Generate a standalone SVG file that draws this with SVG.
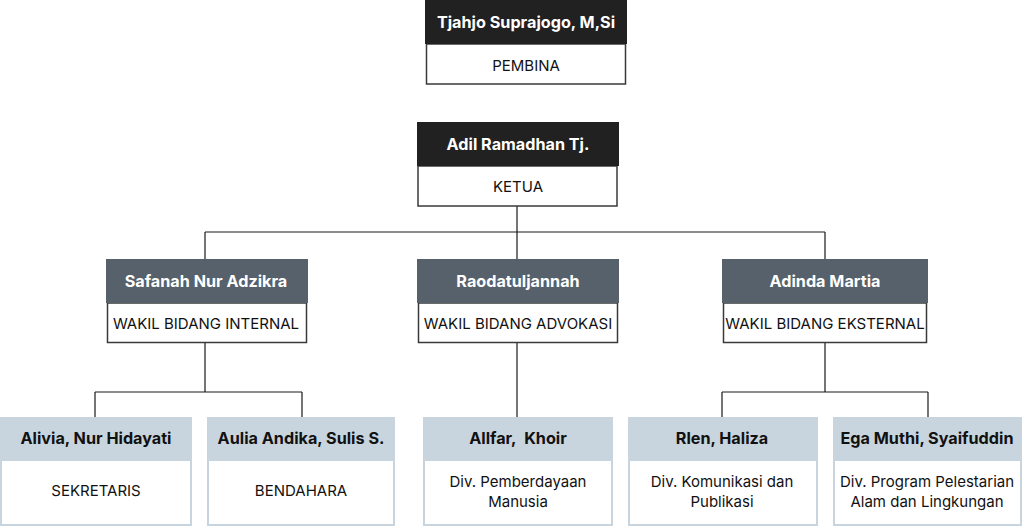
<svg xmlns="http://www.w3.org/2000/svg" width="1024" height="528" viewBox="0 0 1024 528">
<style>
.hd1{fill:#212121}
.hd2{fill:#56616b}
.hd3{fill:#c9d5de}
.bd{fill:#ffffff;stroke:#3a3a3a;stroke-width:1.5}
.bd3{fill:#ffffff;stroke:#c9d5de;stroke-width:2}
.ht{font-family:Inter,"Noto Sans",sans-serif;font-weight:700;font-size:16.2px;text-anchor:middle}
.w{fill:#ffffff}
.k{fill:#111111}
.bt{font-family:Inter,"Noto Sans",sans-serif;font-size:15px;fill:#111111;text-anchor:middle}
.ln{fill:none;stroke:#1a1a1a;stroke-width:1.2}
</style>
<g id="connectors">
<path class="ln" d="M517 206V232M205 232H825M205 232V259M517 232V259M825 232V259"/>
<path class="ln" d="M205 343V392M95 392H302M95 392V417M302 392V417"/>
<path class="ln" d="M517 343V417"/>
<path class="ln" d="M825 343V392M722 392H928M722 392V417M928 392V417"/>
</g>
<g id="pembina">
<rect class="bd" x="426.5" y="44" width="199" height="40"/>
<rect class="hd1" x="425" y="0" width="202" height="44"/>
<text class="ht w" x="526" y="28">Tjahjo Suprajogo, M,Si</text>
<text class="bt" x="526" y="71">PEMBINA</text>
</g>
<g id="ketua">
<rect class="bd" x="418" y="166" width="199" height="40"/>
<rect class="hd1" x="417" y="122" width="202" height="44"/>
<text class="ht w" x="518" y="150">Adil Ramadhan Tj.</text>
<text class="bt" x="518" y="192">KETUA</text>
</g>
<g id="wakil-internal">
<rect class="bd" x="107.5" y="303" width="199" height="39.5"/>
<rect class="hd2" x="106" y="259" width="202" height="44"/>
<text class="ht w" x="206" y="287">Safanah Nur Adzikra</text>
<text class="bt" x="206" y="329">WAKIL BIDANG INTERNAL</text>
</g>
<g id="wakil-advokasi">
<rect class="bd" x="418.5" y="303" width="199" height="39.5"/>
<rect class="hd2" x="417" y="259" width="202" height="44"/>
<text class="ht w" x="518" y="287">Raodatuljannah</text>
<text class="bt" x="518" y="329">WAKIL BIDANG ADVOKASI</text>
</g>
<g id="wakil-eksternal">
<rect class="bd" x="723.5" y="303" width="203" height="39.5"/>
<rect class="hd2" x="722" y="259" width="206" height="44"/>
<text class="ht w" x="825" y="287">Adinda Martia</text>
<text class="bt" x="825" y="329">WAKIL BIDANG EKSTERNAL</text>
</g>
<g id="sekretaris">
<rect class="bd3" x="1" y="460" width="190" height="65"/>
<rect class="hd3" x="0" y="417" width="192" height="44"/>
<text class="ht k" x="96" y="444">Alivia, Nur Hidayati</text>
<text class="bt" x="96" y="496">SEKRETARIS</text>
</g>
<g id="bendahara">
<rect class="bd3" x="208" y="460" width="186" height="65"/>
<rect class="hd3" x="207" y="417" width="188" height="44"/>
<text class="ht k" x="301" y="444">Aulia Andika, Sulis S.</text>
<text class="bt" x="301" y="496">BENDAHARA</text>
</g>
<g id="div-pemberdayaan">
<rect class="bd3" x="424" y="460" width="188" height="65"/>
<rect class="hd3" x="423" y="417" width="190" height="44"/>
<text class="ht k" x="518" y="444">Allfar,&#160; Khoir</text>
<text class="bt" x="518" y="487">Div. Pemberdayaan</text>
<text class="bt" x="518" y="507">Manusia</text>
</g>
<g id="div-komunikasi">
<rect class="bd3" x="629" y="460" width="188" height="65"/>
<rect class="hd3" x="628" y="417" width="190" height="44"/>
<text class="ht k" x="722" y="444">Rlen, Haliza</text>
<text class="bt" x="722" y="487">Div. Komunikasi dan</text>
<text class="bt" x="722" y="507">Publikasi</text>
</g>
<g id="div-pelestarian">
<rect class="bd3" x="834" y="460" width="187" height="65"/>
<rect class="hd3" x="833" y="417" width="189" height="44"/>
<text class="ht k" x="927" y="444">Ega Muthi, Syaifuddin</text>
<text class="bt" x="927" y="487">Div. Program Pelestarian</text>
<text class="bt" x="927" y="507">Alam dan Lingkungan</text>
</g>
</svg>
